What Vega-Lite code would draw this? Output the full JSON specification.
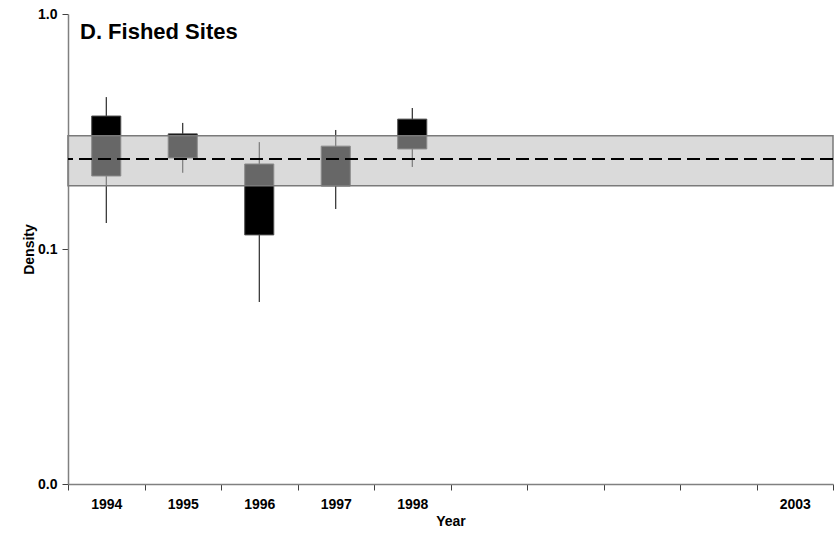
{
  "$schema": "https://vega.github.io/schema/vega-lite/v6.json",
  "width": 765,
  "height": 470,
  "autosize": {"type": "none"},
  "padding": {"left": 68, "top": 14, "right": 7, "bottom": 52},
  "background": "white",
  "title": {
    "text": "D. Fished Sites",
    "anchor": "start",
    "frame": "group",
    "dx": 12,
    "dy": 41,
    "font": "Liberation Sans",
    "fontSize": 22,
    "fontWeight": "bold",
    "color": "black"
  },
  "config": {
    "view": {"stroke": null},
    "axis": {
      "grid": false,
      "domainColor": "#808080",
      "domainWidth": 1.5,
      "tickColor": "#404040",
      "tickSize": 6,
      "labelFont": "Liberation Sans",
      "labelFontSize": 14,
      "labelFontWeight": "bold",
      "labelColor": "black",
      "titleFont": "Liberation Sans",
      "titleFontSize": 14,
      "titleFontWeight": "bold",
      "titleColor": "black"
    }
  },
  "layer": [
    {
      "data": {
        "values": [
          {"year": 1994, "boxLow": 0.2045, "boxHigh": 0.368, "whiskLow": 0.129, "whiskHigh": 0.443},
          {"year": 1995, "boxLow": 0.244, "boxHigh": 0.309, "whiskLow": 0.211, "whiskHigh": 0.344},
          {"year": 1996, "boxLow": 0.1148, "boxHigh": 0.23, "whiskLow": 0.0595, "whiskHigh": 0.285},
          {"year": 1997, "boxLow": 0.1854, "boxHigh": 0.274, "whiskLow": 0.148, "whiskHigh": 0.321},
          {"year": 1998, "boxLow": 0.2665, "boxHigh": 0.357, "whiskLow": 0.2234, "whiskHigh": 0.398}
        ]
      },
      "encoding": {
        "x": {
          "field": "year",
          "type": "ordinal",
          "title": "Year",
          "scale": {
            "domain": [1994, 1995, 1996, 1997, 1998, 1999, 2000, 2001, 2002, 2003],
            "paddingInner": 0,
            "paddingOuter": 0
          },
          "axis": {
            "labelAngle": 0,
            "tickBand": "extent",
            "labelPadding": 7,
            "titlePadding": 3,
            "labelExpr": "datum.value <= 1998 || datum.value == 2003 ? datum.label : ''"
          }
        }
      },
      "layer": [
        {
          "mark": {"type": "rule", "color": "black", "strokeWidth": 1},
          "encoding": {
            "y": {
              "field": "whiskLow",
              "type": "quantitative",
              "title": "Density",
              "scale": {"type": "log", "domain": [0.01, 1], "nice": false},
              "axis": {
                "values": [0.01, 0.1, 1],
                "format": ".1f",
                "labelPadding": 5,
                "titlePadding": 1
              }
            },
            "y2": {"field": "whiskHigh"}
          }
        },
        {
          "mark": {"type": "bar", "color": "black", "stroke": "#505050", "strokeWidth": 1, "width": {"band": 0.38}},
          "encoding": {
            "y": {"field": "boxLow", "type": "quantitative"},
            "y2": {"field": "boxHigh"}
          }
        }
      ]
    },
    {
      "data": {"values": [{"bandLow": 0.186, "bandHigh": 0.303, "overall": 0.2415}]},
      "layer": [
        {
          "mark": {"type": "rect", "fill": "#bcbcbc", "fillOpacity": 0.55, "stroke": "#7a7a7a", "strokeWidth": 1.5},
          "encoding": {
            "y": {"field": "bandLow", "type": "quantitative"},
            "y2": {"field": "bandHigh"}
          }
        },
        {
          "mark": {"type": "rule", "color": "black", "strokeWidth": 2, "strokeDash": [13, 6]},
          "encoding": {
            "y": {"field": "overall", "type": "quantitative"}
          }
        }
      ]
    }
  ]
}
